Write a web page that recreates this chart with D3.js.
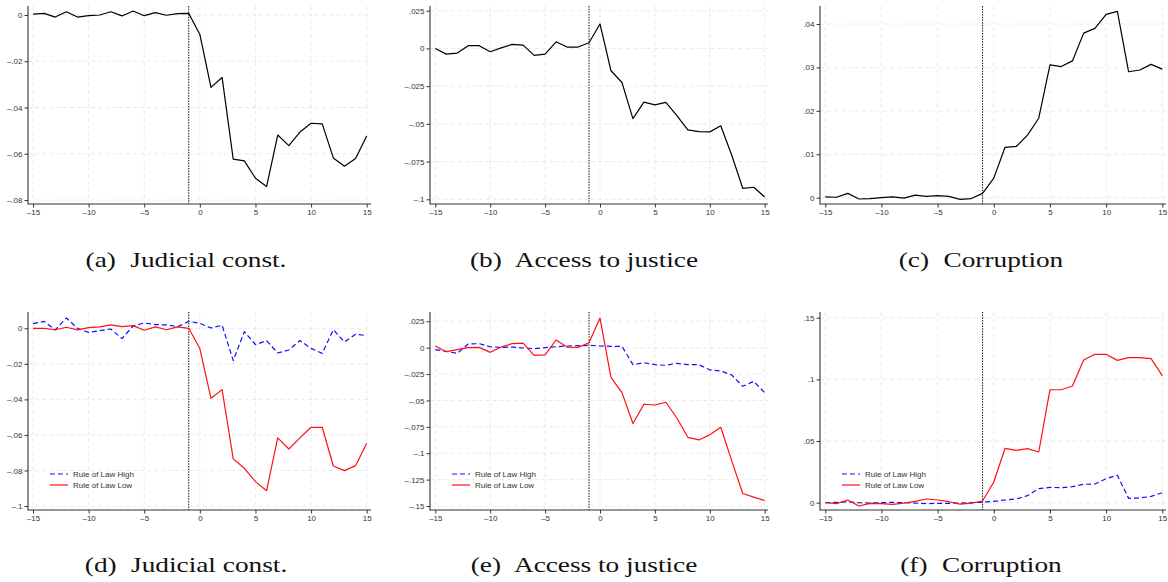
<!DOCTYPE html>
<html>
<head>
<meta charset="utf-8">
<script src="https://cdn.jsdelivr.net/npm/d3@7"></script>
<style>
  body { margin: 0; background: #fff; }
  svg { display: block; }
</style>
</head>
<body>
<svg id="chart" width="1168" height="582"></svg>
<script>
// Event time (years relative to the reform)
const years = d3.range(-15, 16);
const xTicks = [-15, -10, -5, 0, 5, 10, 15];
const eventLine = -1;

// Pooled estimates
const judicialAll = [0.0004, 0.0007, -0.0009, 0.0014, -0.0009, -0.0003, 0, 0.0014, -0.0004, 0.0017,
  -0.0003, 0.001, -0.0001, 0.0006, 0.0007, -0.0084, -0.0313, -0.027, -0.0623, -0.0631,
  -0.0706, -0.0742, -0.0519, -0.0565, -0.0506, -0.0468, -0.0471, -0.0618, -0.0654, -0.0621, -0.0523];
const accessAll = [0, -0.0038, -0.0031, 0.0018, 0.0018, -0.0022, 0.0004, 0.0027, 0.0022, -0.0046,
  -0.0038, 0.0044, 0.0009, 0.0009, 0.0038, 0.0162, -0.0148, -0.0226, -0.0465, -0.0356,
  -0.0374, -0.0358, -0.0445, -0.054, -0.0551, -0.0553, -0.0513, -0.0708, -0.0927, -0.092, -0.0985];
const corruptionAll = [0.0002, 0.0001, 0.001, -0.0003, -0.0002, 0, 0.0002, -0.0001, 0.0006, 0.0003,
  0.0005, 0.0003, -0.0004, -0.0002, 0.001, 0.0045, 0.0116, 0.0118, 0.0144, 0.0183,
  0.0306, 0.0302, 0.0315, 0.0379, 0.039, 0.0422, 0.0429, 0.029, 0.0294, 0.0307, 0.0296];

// Estimates split by rule-of-law group
const judicialHigh = [0.0026, 0.0039, -0.0009, 0.0058, 0, -0.0023, -0.0013, -0.0004, -0.0058, 0.0013,
  0.003, 0.0021, 0.0019, 0.0009, 0.0039, 0.0028, 0.0002, 0.0017, -0.0182, -0.0019,
  -0.0092, -0.0069, -0.0139, -0.0122, -0.0069, -0.0113, -0.0141, -0.0008, -0.0077, -0.0034, -0.0041];
const judicialLow = [0, 0, -0.0008, 0.0006, -0.0009, 0.0004, 0.0008, 0.0019, 0.0009, 0.0015,
  -0.0011, 0.0008, -0.0008, 0.0008, 0, -0.0114, -0.0394, -0.0345, -0.0735, -0.0788,
  -0.0863, -0.0914, -0.0617, -0.0679, -0.0617, -0.0557, -0.0557, -0.0775, -0.0801, -0.0773, -0.0647];
const accessHigh = [-0.0019, -0.0035, -0.0054, 0.0035, 0.0038, 0.0009, 0.0003, 0.0006, -0.0003, -0.0009,
  0, 0.0009, 0.0016, 0.0019, 0.0022, 0.0016, 0.0013, 0.0013, -0.0161, -0.0142,
  -0.0161, -0.0167, -0.0148, -0.0161, -0.0161, -0.0211, -0.0221, -0.0259, -0.0366, -0.0319, -0.0426];
const accessLow = [0.0016, -0.0038, -0.0019, 0, 0.0003, -0.0044, 0.0006, 0.0038, 0.0044, -0.0073,
  -0.0069, 0.0073, 0.0006, 0.0003, 0.0047, 0.0281, -0.0281, -0.0426, -0.0719, -0.0536,
  -0.0543, -0.0517, -0.0666, -0.0849, -0.0874, -0.0826, -0.0754, -0.1073, -0.1382, -0.1416, -0.1448];
const corruptionHigh = [0, 0.0003, 0.0008, 0, -0.0003, 0, 0.0003, 0, -0.0003, -0.0008,
  -0.0005, -0.0005, -0.0003, 0, 0.0003, 0.0011, 0.0022, 0.003, 0.0057, 0.0114,
  0.0124, 0.0122, 0.013, 0.0149, 0.0151, 0.0195, 0.0222, 0.0035, 0.0038, 0.0051, 0.0081];
const corruptionLow = [0, -0.0008, 0.0022, -0.0027, -0.0005, -0.0008, -0.0014, -0.0003, 0.0011, 0.003,
  0.0022, 0.0008, -0.0011, -0.0003, 0.0014, 0.0168, 0.0441, 0.0424, 0.0438, 0.0411,
  0.0916, 0.0916, 0.0946, 0.1157, 0.1203, 0.1203, 0.1154, 0.1176, 0.1176, 0.1168, 0.103];

// Y-axis tick values
const judicialTicks = [0, -0.02, -0.04, -0.06, -0.08];
const accessTicks = [0.025, 0, -0.025, -0.05, -0.075, -0.1];
const corruptionTicks = [0, 0.01, 0.02, 0.03, 0.04];
const judicialSplitTicks = [0, -0.02, -0.04, -0.06, -0.08, -0.1];
const accessSplitTicks = [0.025, 0, -0.025, -0.05, -0.075, -0.1, -0.125, -0.15];
const corruptionSplitTicks = [0, 0.05, 0.1, 0.15];

// Legend and captions
const legendLabels = ["Rule of Law High", "Rule of Law Low"];
const captionTags = ["(a)", "(b)", "(c)", "(d)", "(e)", "(f)"];
const captionTitles = ["Judicial const.", "Access to justice", "Corruption",
                       "Judicial const.", "Access to justice", "Corruption"];

// ---- layout ----
const columns = [
  { axisX: 28,  x0: 33,    x1: 366.7,  end: 371,  cap: 186 },
  { axisX: 430, x0: 435.3, x1: 764.7,  end: 768,  cap: 584 },
  { axisX: 820, x0: 825.3, x1: 1162.3, end: 1166, cap: 981 }
];
const rows = [
  { top: 6,   axis: 204, capY: 267 },
  { top: 312, axis: 510, capY: 572 }
];

const styles = {
  all:  { stroke: "#000", dash: null, width: 1.2 },
  high: { stroke: "#1010ff", dash: "5,3", width: 1.2 },
  low:  { stroke: "#ff1010", dash: null, width: 1.2 }
};

const panels = [
  { col: 0, row: 0, ticks: judicialTicks, yPx: [200, 15], series: [["all", judicialAll]] },
  { col: 1, row: 0, ticks: accessTicks, yPx: [199.3, 10.7], series: [["all", accessAll]] },
  { col: 2, row: 0, ticks: corruptionTicks, yPx: [197.7, 24], series: [["all", corruptionAll]] },
  { col: 0, row: 1, ticks: judicialSplitTicks, yPx: [506, 328.3], series: [["high", judicialHigh], ["low", judicialLow]], legend: true },
  { col: 1, row: 1, ticks: accessSplitTicks, yPx: [506, 321.3], series: [["high", accessHigh], ["low", accessLow]], legend: true },
  { col: 2, row: 1, ticks: corruptionSplitTicks, yPx: [502.7, 317.7], series: [["high", corruptionHigh], ["low", corruptionLow]], legend: true }
];

// Stata-style numbers: no leading zero, en-dash minus
const fmt = d => {
  if (d === 0) return "0";
  const s = String(+Math.abs(d).toFixed(4)).replace(/^0\./, ".");
  return (d < 0 ? "\u2013" : "") + s;
};

const svg = d3.select("#chart");
const tickFont = "'Liberation Sans', Arial, Helvetica, sans-serif";

panels.forEach((p, i) => {
  const c = columns[p.col], r = rows[p.row];
  const x = d3.scaleLinear().domain([-15, 15]).range([c.x0, c.x1]);
  const y = d3.scaleLinear().domain(d3.extent(p.ticks)).range(p.yPx);
  const g = svg.append("g");

  // grid
  g.append("g").selectAll("line").data(p.ticks).join("line")
    .attr("x1", c.axisX).attr("x2", c.end)
    .attr("y1", d => y(d)).attr("y2", d => y(d))
    .attr("stroke", "#e4e4e4").attr("stroke-width", 0.8).attr("stroke-dasharray", "4,3");
  g.append("g").selectAll("line").data(xTicks).join("line")
    .attr("x1", d => x(d)).attr("x2", d => x(d))
    .attr("y1", r.top).attr("y2", r.axis)
    .attr("stroke", "#e4e4e4").attr("stroke-width", 0.8).attr("stroke-dasharray", "4,3");

  // axes
  const yAxis = g.append("g").attr("transform", `translate(${c.axisX},0)`)
    .call(d3.axisLeft(y).tickValues(p.ticks).tickFormat(fmt).tickSize(3.5).tickPadding(2).tickSizeOuter(0));
  const xAxis = g.append("g").attr("transform", `translate(0,${r.axis})`)
    .call(d3.axisBottom(x).tickValues(xTicks).tickFormat(fmt).tickSize(3.5).tickPadding(1.5).tickSizeOuter(0));
  [yAxis, xAxis].forEach(a => {
    a.select(".domain").remove();
    a.selectAll(".tick line").attr("stroke", "#333").attr("stroke-width", 1);
    a.selectAll(".tick text").attr("fill", "#333").style("font-family", tickFont).style("font-size", "8px");
  });
  g.append("line").attr("x1", c.axisX).attr("x2", c.axisX).attr("y1", r.top).attr("y2", r.axis + 0.5)
    .attr("stroke", "#333").attr("stroke-width", 1.1);
  g.append("line").attr("x1", c.axisX).attr("x2", c.end).attr("y1", r.axis).attr("y2", r.axis)
    .attr("stroke", "#333").attr("stroke-width", 1.1);

  // event marker
  g.append("line").attr("x1", x(eventLine)).attr("x2", x(eventLine))
    .attr("y1", r.top).attr("y2", r.axis)
    .attr("stroke", "#111").attr("stroke-width", 1).attr("stroke-dasharray", "1.5,1.2");

  // series
  const line = d3.line().x((d, k) => x(years[k])).y(d => y(d));
  p.series.forEach(([key, vals]) => {
    const s = styles[key];
    g.append("path").datum(vals).attr("d", line)
      .attr("fill", "none").attr("stroke", s.stroke).attr("stroke-width", s.width)
      .attr("stroke-dasharray", s.dash).attr("stroke-linejoin", "round");
  });

  // legend
  if (p.legend) {
    const lg = g.append("g").attr("transform", `translate(${c.axisX + 22},${r.axis - 36})`);
    ["high", "low"].forEach((key, k) => {
      const s = styles[key];
      lg.append("line").attr("x1", 0).attr("x2", 18).attr("y1", k * 11).attr("y2", k * 11)
        .attr("stroke", s.stroke).attr("stroke-width", s.width).attr("stroke-dasharray", s.dash);
      lg.append("text").attr("x", 23).attr("y", k * 11).attr("dy", "0.35em")
        .attr("fill", "#333").style("font-family", tickFont).style("font-size", "8px")
        .text(legendLabels[k]);
    });
  }

  // caption
  const cap = svg.append("text")
    .attr("transform", `translate(${c.cap},${r.capY}) scale(1.27,1)`)
    .attr("text-anchor", "middle")
    .style("font-family", "'Liberation Serif', 'Times New Roman', serif")
    .style("font-size", "21.5px").attr("fill", "#111");
  cap.append("tspan").text(captionTags[i]);
  cap.append("tspan").attr("dx", 6).text(" " + captionTitles[i]);
});
</script>
</body>
</html>
